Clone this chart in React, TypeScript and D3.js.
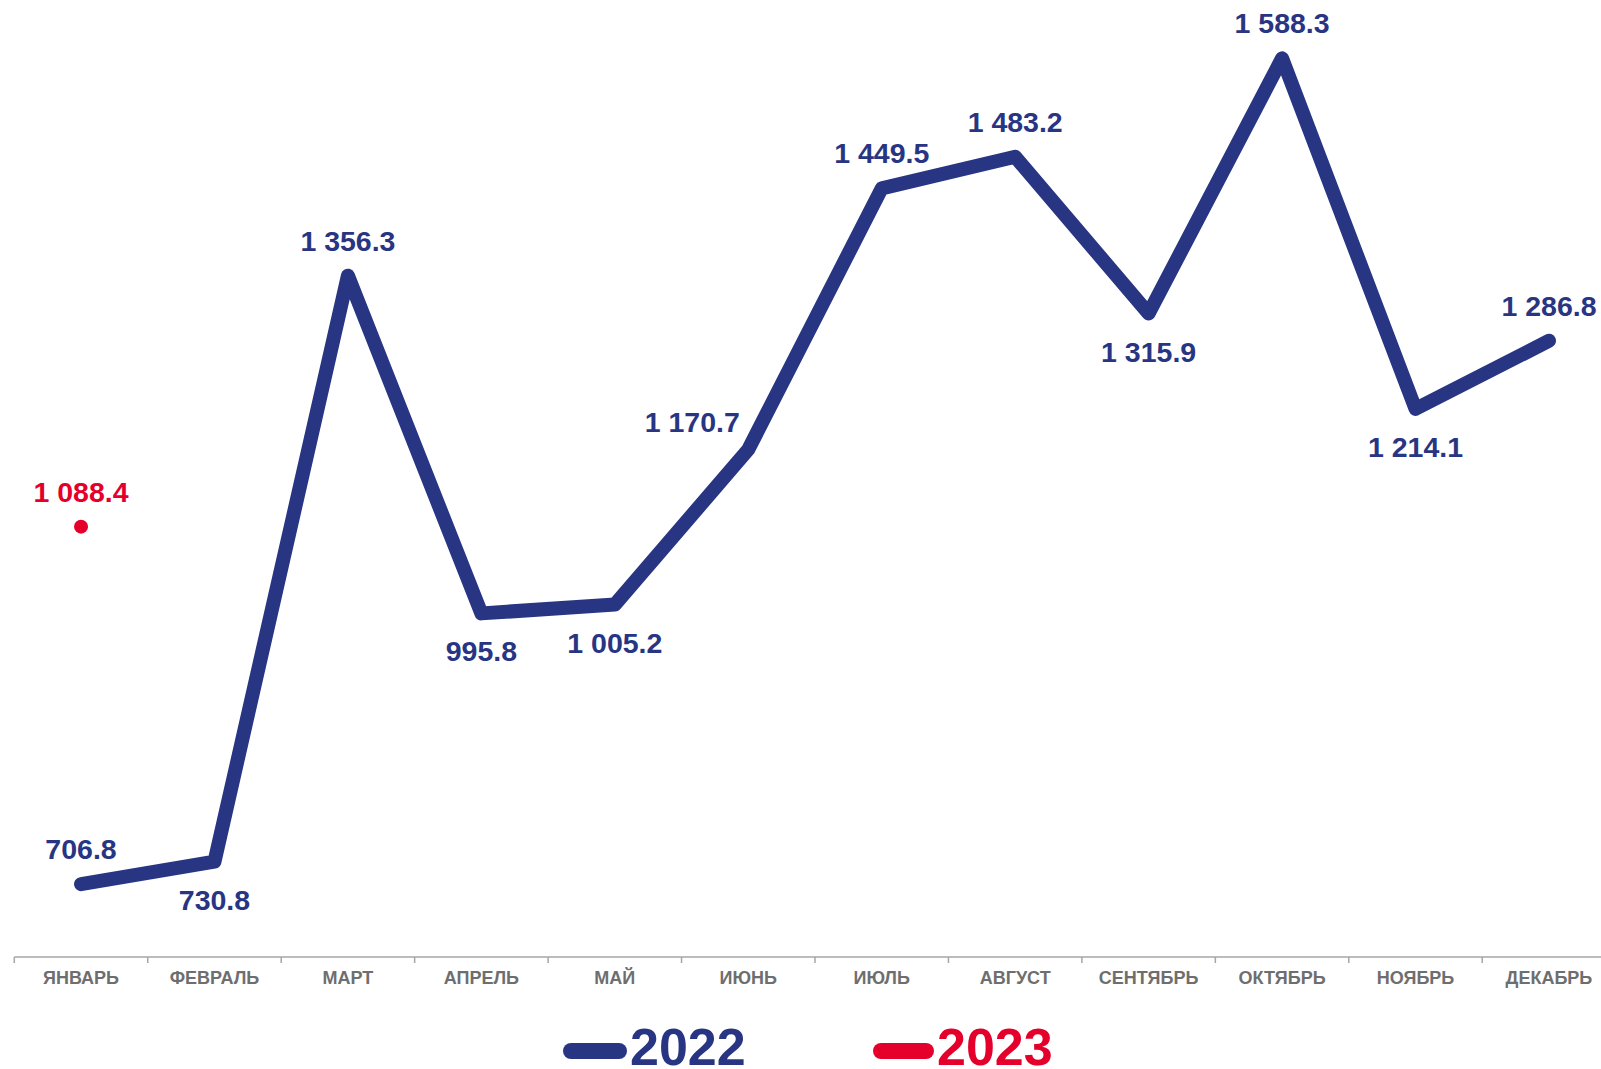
import React from "react";
import * as d3 from "d3";

const months = ["ЯНВАРЬ", "ФЕВРАЛЬ", "МАРТ", "АПРЕЛЬ", "МАЙ", "ИЮНЬ", "ИЮЛЬ", "АВГУСТ", "СЕНТЯБРЬ", "ОКТЯБРЬ", "НОЯБРЬ", "ДЕКАБРЬ"];
const values2022 = [706.8, 730.8, 1356.3, 995.8, 1005.2, 1170.7, 1449.5, 1483.2, 1315.9, 1588.3, 1214.1, 1286.8];
const values2023 = [1088.4];
const labelPos2022 = ["above", "below", "above", "below", "below", "left", "above", "above", "below", "above", "below", "above"];
const seriesNames = ["2022", "2023"];

const W = 1601;
const H = 1069;
const BLUE = "#283583";
const RED = "#E4002B";
const FONT = "'Liberation Sans', Arial, sans-serif";

const fmt = (v: number) => {
  const s = v.toFixed(1);
  const [i, d] = s.split(".");
  const ii = i.replace(/\B(?=(\d{3})+(?!\d))/g, " ");
  return ii + "." + d;
};

export default function App() {
  const axisY = 957;
  const x = d3.scaleBand<string>().domain(months).range([14.3, 14.3 + 12 * 133.45]).paddingInner(0).paddingOuter(0);
  const y = d3.scaleLinear().domain([629, 1600]).range([axisY, axisY - 971 * 0.9368]);
  const cx = (m: string) => (x(m) as number) + x.bandwidth() / 2;

  const line = d3
    .line<number>()
    .x((_, i) => cx(months[i]))
    .y((d) => y(d));

  const ticks = d3.range(0, 13).map((i) => 14.3 + i * x.bandwidth());

  return (
    <svg width={W} height={H} style={{ position: "absolute", left: 0, top: 0, background: "#fff" }} fontFamily={FONT}>
      {/* axis */}
      <line x1={14.3} x2={W} y1={axisY} y2={axisY} stroke="#a6a6a6" strokeWidth={1.5} />
      {ticks.map((t, i) => (
        <line key={i} x1={t} x2={t} y1={axisY} y2={axisY + 6} stroke="#a6a6a6" strokeWidth={1.5} />
      ))}
      {months.map((m) => (
        <text key={m} x={cx(m)} y={axisY + 21} textAnchor="middle" dominantBaseline="central" fontSize={18} fontWeight="bold" fill="#6e6e6e">
          {m}
        </text>
      ))}

      {/* 2022 line */}
      <path d={line(values2022) as string} fill="none" stroke={BLUE} strokeWidth={14} strokeLinecap="round" strokeLinejoin="round" />
      {values2022.map((v, i) => {
        const px = cx(months[i]);
        const py = y(v);
        const pos = labelPos2022[i];
        let lx = px;
        let ly = py;
        if (pos === "above") ly = py - 35;
        else if (pos === "below") ly = py + 38;
        else {
          lx = px - 56;
          ly = py - 28;
        }
        return (
          <text key={i} x={lx} y={ly} textAnchor="middle" dominantBaseline="central" fontSize={28.5} fontWeight="bold" fill={BLUE}>
            {fmt(v)}
          </text>
        );
      })}

      {/* 2023 */}
      {values2023.map((v, i) => (
        <g key={i}>
          <circle cx={cx(months[i])} cy={y(v)} r={7} fill={RED} />
          <text x={cx(months[i])} y={y(v) - 35} textAnchor="middle" dominantBaseline="central" fontSize={28.5} fontWeight="bold" fill={RED}>
            {fmt(v)}
          </text>
        </g>
      ))}

      {/* legend */}
      <line x1={571} x2={619} y1={1051} y2={1051} stroke={BLUE} strokeWidth={16} strokeLinecap="round" />
      <text x={630} y={1065} fontSize={52} fontWeight="bold" fill={BLUE}>
        {seriesNames[0]}
      </text>
      <line x1={881} x2={926} y1={1051} y2={1051} stroke={RED} strokeWidth={16} strokeLinecap="round" />
      <text x={937} y={1065} fontSize={52} fontWeight="bold" fill={RED}>
        {seriesNames[1]}
      </text>
    </svg>
  );
}
